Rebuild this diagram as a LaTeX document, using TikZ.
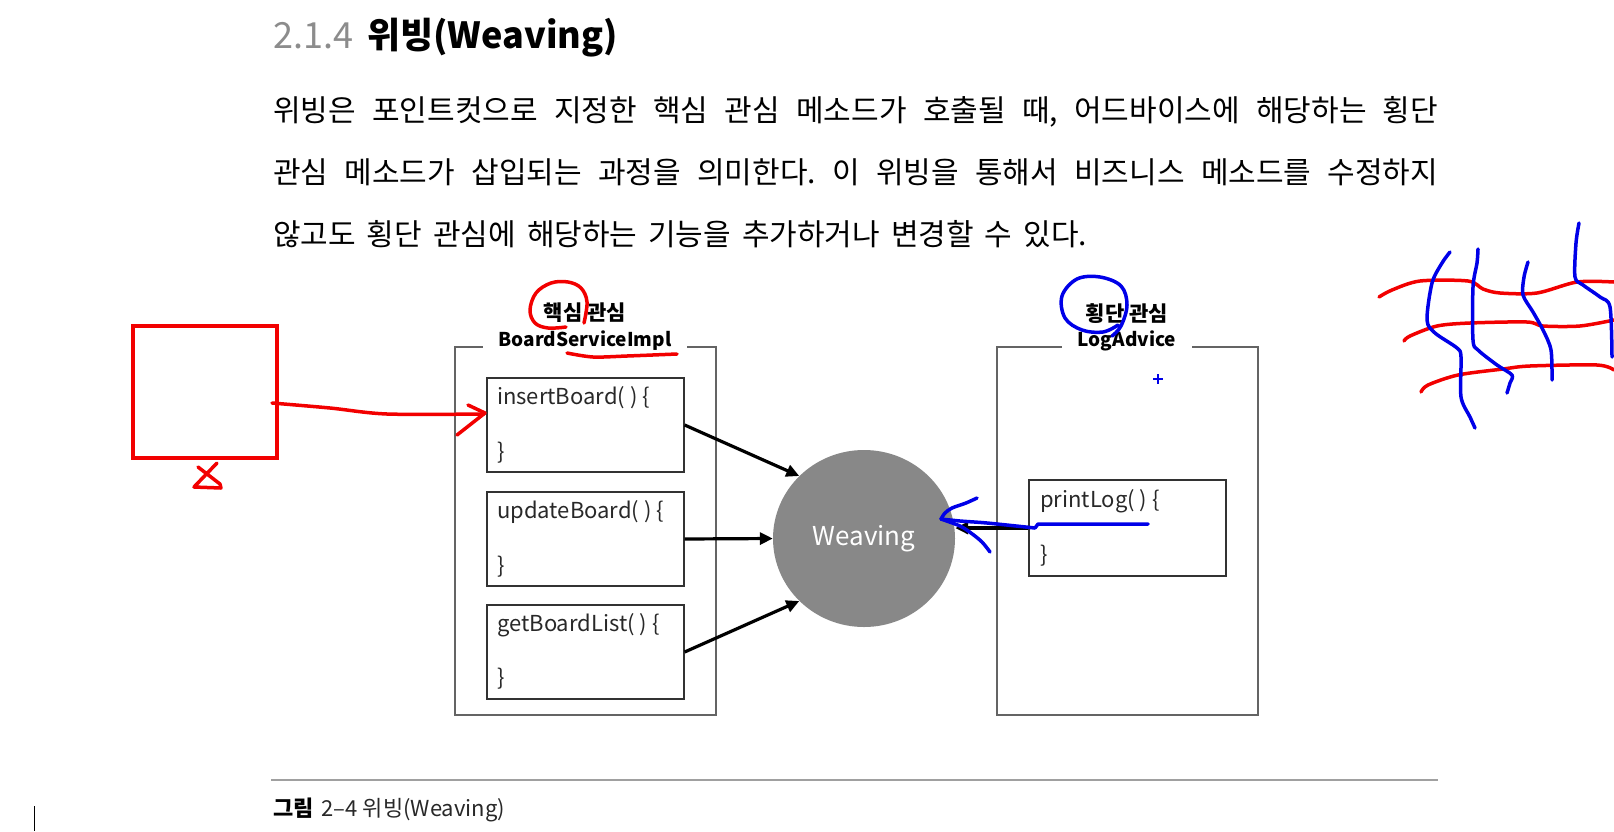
\documentclass[tikz,border=0pt]{standalone}
\usepackage{fontspec}
\setmainfont{Noto Sans CJK KR}
\usetikzlibrary{shapes.geometric,arrows.meta}

\definecolor{penred}{RGB}{242,0,0}
\definecolor{penblue}{RGB}{0,0,232}
\definecolor{weavegray}{RGB}{136,136,136}
\definecolor{framegray}{RGB}{100,100,100}
\definecolor{codeline}{RGB}{50,50,50}
\definecolor{codetext}{RGB}{40,40,40}
\definecolor{secgray}{RGB}{140,140,140}
\definecolor{rulegray}{RGB}{160,160,160}

\newcommand{\fs}[1]{\fontsize{#1}{#1}\selectfont}
\frenchspacing

\begin{document}
\begin{tikzpicture}[x=1pt,y=-1pt,
  outerbox/.style={draw=framegray, line width=1.3pt, minimum width=261pt, minimum height=368pt, inner sep=0pt},
  codebox/.style={draw=codeline, line width=1.3pt, minimum width=197pt, minimum height=94pt, inner sep=0pt},
  boxname/.style={fill=white, text=black, font=\fs{19}\bfseries, inner xsep=16pt, inner ysep=3pt},
  concern/.style={text=black, font=\fs{21}\bfseries, inner sep=0pt},
  code/.style={anchor=west, text=codetext, font=\fs{22}, inner sep=0pt},
  flow/.style={-{Triangle[length=13pt,width=12pt]}, line width=3.2pt, black},
  redpen/.style={draw=penred, line width=3.5pt, line cap=round, line join=round},
  bluepen/.style={draw=penblue, line width=3.5pt, line cap=round, line join=round},
  bodyline/.style={anchor=base west, inner sep=0pt, text=black, font=\fs{30}},
]
\useasboundingbox (0,0) rectangle (1614,831);

% section heading
\node[anchor=base west, inner sep=0pt, font=\fs{36}] (head) at (273,48)
  {\textcolor{secgray}{2.1.4}\hspace{14pt}\textbf{위빙(Weaving)}};

% paragraph
\node[bodyline] (l1) at (273,121) {\makebox[1165pt][s]{위빙은 포인트컷으로 지정한 핵심 관심 메소드가 호출될 때, 어드바이스에 해당하는 횡단}};
\node[bodyline] (l2) at (273,183) {\makebox[1165pt][s]{관심 메소드가 삽입되는 과정을 의미한다. 이 위빙을 통해서 비즈니스 메소드를 수정하지}};
\node[bodyline] (l3) at (273,245) {\spaceskip=11pt\relax 않고도 횡단 관심에 해당하는 기능을 추가하거나 변경할 수 있다.};

% core concern class
\node[outerbox] (core) at (585.5,531) {};
\node[boxname] (corename) at (585,341) {BoardServiceImpl};
\node[concern] (coretag) at (585,313) {핵심 관심};

\node[codebox] (ib) at (585.5,425) {};
\node[code] (ibt) at (497,398) {insertBoard( ) \{};
\node[code] (ibe) at (497,453) {\}};

\node[codebox] (ub) at (585.5,539) {};
\node[code] (ubt) at (497,512) {updateBoard( ) \{};
\node[code] (ube) at (497,567) {\}};

\node[codebox] (gb) at (585.5,652) {};
\node[code] (gbt) at (497,625) {getBoardList( ) \{};
\node[code] (gbe) at (497,679) {\}};

% cross-cutting concern class
\node[outerbox] (cross) at (1127.5,531) {};
\node[boxname] (crossname) at (1127,341) {LogAdvice};
\node[concern] (crosstag) at (1127,314) {횡단 관심};

\node[codebox, minimum height=96pt] (pl) at (1127.5,528) {};
\node[code] (plt) at (1040,501) {printLog( ) \{};
\node[code] (ple) at (1040,556) {\}};

% weaving
\node[ellipse, fill=weavegray, minimum width=182pt, minimum height=177pt, inner sep=0pt,
      text=white, font=\fs{26}] (weave) at (864,538.5) {Weaving};

\draw[flow] (ib.east) -- (weave.136);
\draw[flow] (ub.east) -- (weave.west);
\draw[flow] (gb.east) -- (weave.224);
\draw[flow] (pl.west) -- (weave.east |- pl.west);

% caption
\draw[rulegray, line width=1.5pt] (271,780) -- (1438,780);
\node[anchor=base west, inner sep=0pt, font=\fs{22}] (cap) at (273,816)
  {\textbf{그림}\hspace{8pt}\textcolor{codetext}{2–4 위빙(Weaving)}};

% text cursor
\draw[black, line width=1pt] (34,806) -- (34,831);

% --- pen notes ---
\node[draw=penred, line width=4pt, minimum width=144pt, minimum height=132pt, inner sep=0pt] (memo) at (205,392) {};
\draw[redpen] plot[smooth, tension=0.5] coordinates {(272,403) (330,408) (387,414) (484,414)};
\draw[redpen] (468,405) -- (485,413) -- (457,435);
\draw[redpen] (217,463) -- (194,487) -- (221,488) -- (220,484) -- (198,467);

\draw[redpen] plot[smooth, tension=0.6] coordinates {(584,323) (587,302) (581,288) (568,282) (551,283) (536,293) (530,310) (535,323) (548,328) (566,327)};
\draw[redpen] plot[smooth, tension=0.5] coordinates {(567,353) (593,357) (627,356) (677,354)};

\draw[bluepen] plot[smooth, tension=0.6] coordinates {(1112,336) (1121,326) (1127,305) (1121,286) (1100,277) (1077,279) (1062,296) (1065,318) (1082,330) (1103,332) (1118,325)};
\draw[penblue, line width=1.5pt] (1153,379) -- (1163,379) (1158,374) -- (1158,384);

\draw[bluepen] (1148,524) -- (1038,524) -- (1035,528);
\draw[bluepen] plot[smooth, tension=0.5] coordinates {(1035,528) (987,523) (960,521) (941,519)};
\draw[bluepen] plot[smooth, tension=0.5] coordinates {(977,498) (966,503) (952,508) (945,513) (941,519)};
\draw[bluepen] plot[smooth, tension=0.5] coordinates {(941,519) (960,526) (971,533) (982,542) (990,552)};

% woven grid
\draw[redpen] plot[smooth, tension=0.5] coordinates {(1379,297) (1392,290) (1420,281) (1468,281) (1483,289) (1500,293) (1537,293) (1577,282) (1614,282)};
\draw[redpen] plot[smooth, tension=0.5] coordinates {(1404,341) (1410,336) (1437,326) (1470,323) (1527,322) (1543,326) (1580,326) (1614,320)};
\draw[redpen] plot[smooth, tension=0.5] coordinates {(1421,392) (1428,385) (1458,375) (1503,369) (1530,366) (1597,365) (1614,370)};

\draw[bluepen] plot[smooth, tension=0.5] coordinates {(1450,252) (1442,263) (1432,283) (1427,320) (1435,333) (1457,348) (1461,357) (1461,397) (1470,417) (1475,428)};
\draw[bluepen] plot[smooth, tension=0.5] coordinates {(1478,249) (1477,263) (1473,287) (1473,340) (1478,350) (1497,365) (1512,375) (1510,383) (1507,393)};
\draw[bluepen] plot[smooth, tension=0.5] coordinates {(1528,262) (1524,277) (1523,295) (1533,312) (1543,330) (1551,350) (1552,380)};
\draw[bluepen] plot[smooth, tension=0.5] coordinates {(1579,223) (1576,243) (1575,277) (1583,285) (1600,297) (1610,307) (1612,357)};
\end{tikzpicture}
\end{document}
